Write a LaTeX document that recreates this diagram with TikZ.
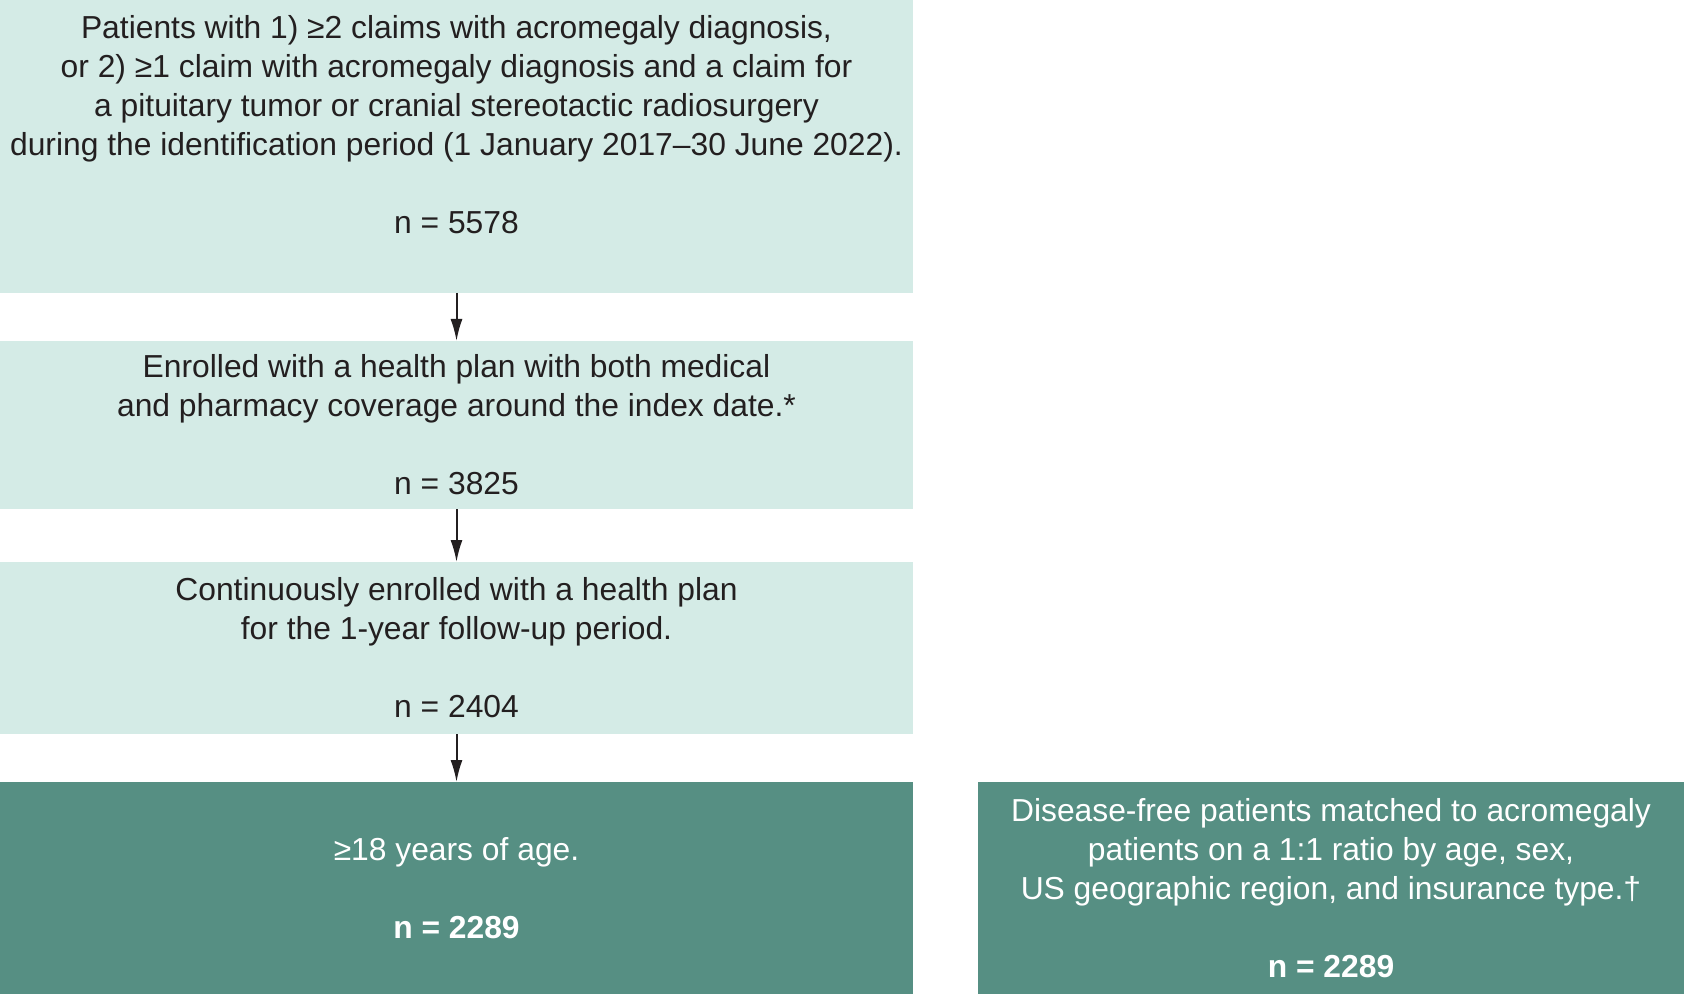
\documentclass[tikz,border=0pt]{standalone}
\usepackage{fontspec}
\setmainfont{Liberation Sans}
\usetikzlibrary{positioning,arrows.meta}
\definecolor{boxlight}{RGB}{212,235,230}
\definecolor{boxdark}{RGB}{86,143,131}
\definecolor{inkdark}{RGB}{35,31,32}
\tikzset{>={Latex[length=11pt,width=6pt]}}

\begin{document}
\begin{tikzpicture}[
  font=\fontsize{15.9}{19.5}\selectfont,
  stage/.style={fill=boxlight,text=inkdark,align=center,inner sep=0pt,outer sep=0pt,minimum width=456.5pt},
  final/.style={stage,fill=boxdark,text=white},
  flow/.style={->,line width=1pt,draw=inkdark}]
  \pgfmathsetmacro{\Width}{842};
  \pgfmathsetmacro{\Height}{497};
  \useasboundingbox (0,0) rectangle ({\Width pt},{-\Height pt});
  %
  \node[stage,anchor=north,minimum height=146.5pt] (claims) at (228.25pt,0)
    {Patients with 1) ≥2 claims with acromegaly diagnosis,\\
     or 2) ≥1 claim with acromegaly diagnosis and a claim for\\
     a pituitary tumor or cranial stereotactic radiosurgery\\
     during the identification period (1 January 2017–30 June 2022).\\[19.5pt]
     n = 5578\\[2.5pt]\mbox{}};
  \node[stage,below=24pt of claims,minimum height=84pt] (coverage)
    {Enrolled with a health plan with both medical\\
     and pharmacy coverage around the index date.*\\[19.5pt]
     n = 3825};
  \node[stage,below=26.5pt of coverage,minimum height=86pt] (followup)
    {Continuously enrolled with a health plan\\
     for the 1-year follow-up period.\\[19.5pt]
     n = 2404};
  \node[final,below=24pt of followup,minimum height=106pt] (adults)
    {≥18 years of age.\\[19.5pt]
     \textbf{n = 2289}};
  \node[final,right=32.5pt of adults,minimum width=353pt,minimum height=106pt] (controls)
    {Disease-free patients matched to acromegaly\\
     patients on a 1:1 ratio by age, sex,\\
     US geographic region, and insurance type.†\\[19.5pt]
     \textbf{n = 2289}};
  %
  \draw[flow] (claims) -- (coverage);
  \draw[flow] (coverage) -- (followup);
  \draw[flow] (followup) -- (adults);
\end{tikzpicture}
\end{document}
